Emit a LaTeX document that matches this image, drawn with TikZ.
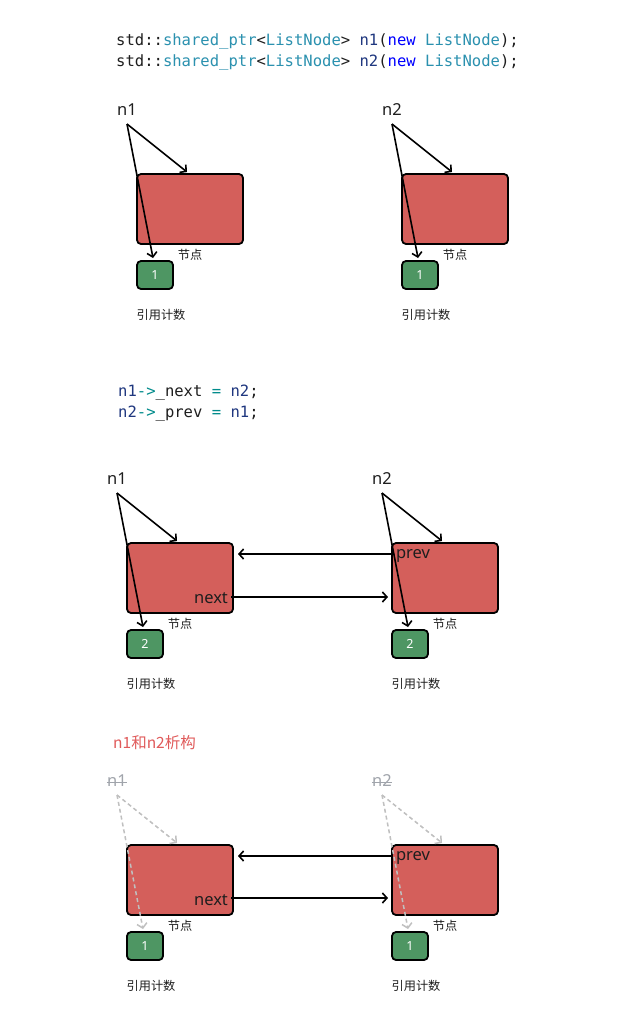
\documentclass[tikz,border=0pt]{standalone}
\usepackage{fontspec}
\setmainfont{Noto Sans}
\setmonofont{DejaVu Sans Mono}
\newfontfamily\cjk{Noto Sans CJK SC}
\usetikzlibrary{arrows.meta}
\definecolor{nodered}{HTML}{D45F5B}
\definecolor{nodegreen}{HTML}{4E9663}
\definecolor{cteal}{HTML}{2B91AF}
\definecolor{cnavy}{HTML}{1F377F}
\definecolor{cblue}{HTML}{0000FF}
\definecolor{cop}{HTML}{008B8B}
\definecolor{ctxt}{HTML}{1E1E1E}
\definecolor{fadetxt}{HTML}{A0A4AB}
\definecolor{fadeline}{HTML}{C0C0C0}
\definecolor{titlered}{HTML}{E05A5A}
\tikzset{
  nodebox/.style={draw=black,line width=1.8pt,fill=nodered,rounded corners=4pt,minimum width=106pt,minimum height=70pt,inner sep=0pt},
  countbox/.style={draw=black,line width=1.8pt,fill=nodegreen,rounded corners=4pt,minimum width=36pt,minimum height=28pt,inner sep=0pt,text=white,font=\fontsize{12.5}{13}\selectfont},
  lbl/.style={inner sep=0pt,font=\fontsize{16.5}{18}\selectfont,text=ctxt},
  small/.style={inner sep=0pt,font=\cjk\fontsize{12.2}{13}\selectfont,text=ctxt},
  code/.style={inner sep=0pt,anchor=base west,font=\ttfamily\fontsize{15.55}{17}\selectfont},
  ptr/.style={line width=1.6pt,-{Straight Barb[length=4.5pt,width=10pt,line width=1.6pt]}},
  faded/.style={line width=1.5pt,draw=fadeline,dash pattern=on 4pt off 3pt,-{Straight Barb[length=4.5pt,width=10pt,line width=1.5pt]}},
  link/.style={line width=1.6pt,-{Straight Barb[length=4.5pt,width=10pt,line width=1.6pt]}},
}
% #1 prefix, #2 x, #3 y (top-left of node box), #4 label, #5 count, #6 label style, #7 arrow style
\newcommand\sidepair[7]{%
  \node[nodebox] (#1box) at (#2+53,#3+35) {};
  \node[countbox] (#1cnt) at (#2+18,#3+101) {#5};
  \node[small] (#1cap) at (#2+53,#3+81) {节点};
  \node[small] (#1rc) at (#2+24,#3+141) {引用计数};
  \node[lbl,#6] (#1lbl) at (#2-10,#3-64) {#4};
  \coordinate (#1apex) at (#2-10,#3-50);
  \coordinate (#1tip) at (#2+50,#3-2);
  \coordinate (#1low) at (#2+16,#3+84);
  \draw[#7] (#1apex) -- (#1tip);
  \draw[#7] (#1apex) -- (#1low);
}
\begin{document}
\begin{tikzpicture}[x=1pt,y=-1pt]
\useasboundingbox[fill=white] (0,0) rectangle (636,1012);
% code block 1
\node[code] (codeA) at (116,45) {\textcolor{ctxt}{std::}\textcolor{cteal}{shared\_ptr}\textcolor{ctxt}{<}\textcolor{cteal}{ListNode}\textcolor{ctxt}{>} \textcolor{cnavy}{n1}\textcolor{ctxt}{(}\textcolor{cblue}{new} \textcolor{cteal}{ListNode}\textcolor{ctxt}{);}};
\node[code] (codeB) at (116,66) {\textcolor{ctxt}{std::}\textcolor{cteal}{shared\_ptr}\textcolor{ctxt}{<}\textcolor{cteal}{ListNode}\textcolor{ctxt}{>} \textcolor{cnavy}{n2}\textcolor{ctxt}{(}\textcolor{cblue}{new} \textcolor{cteal}{ListNode}\textcolor{ctxt}{);}};
% diagram 1
\sidepair{aL}{137}{174}{n1}{1}{}{ptr}
\sidepair{aR}{402}{174}{n2}{1}{}{ptr}
% code block 2
\node[code] (codeC) at (118,396) {\textcolor{cnavy}{n1}\textcolor{cop}{->}\textcolor{ctxt}{\_next} \textcolor{cop}{=} \textcolor{cnavy}{n2}\textcolor{ctxt}{;}};
\node[code] (codeD) at (118,417) {\textcolor{cnavy}{n2}\textcolor{cop}{->}\textcolor{ctxt}{\_prev} \textcolor{cop}{=} \textcolor{cnavy}{n1}\textcolor{ctxt}{;}};
% diagram 2
\sidepair{bL}{127}{543}{n1}{2}{}{ptr}
\sidepair{bR}{392}{543}{n2}{2}{}{ptr}
\node[lbl] (bnext) at (211,598) {next};
\node[lbl] (bprev) at (413,556) {prev};
\coordinate (bprevs) at (392,554);
\coordinate (bpreve) at (238,554);
\draw[link] (bprevs) -- (bpreve);
\coordinate (bnexts) at (231,597);
\coordinate (bnexte) at (388,597);
\draw[link] (bnexts) -- (bnexte);
% title
\node[inner sep=0pt,anchor=west,font=\cjk\fontsize{15.5}{17}\selectfont,text=titlered] (title) at (113,743) {n1和n2析构};
% diagram 3
\sidepair{cL}{127}{845}{n1}{1}{text=fadetxt}{faded}
\sidepair{cR}{392}{845}{n2}{1}{text=fadetxt}{faded}
\draw[fadetxt,line width=0.9pt] ([yshift=-1pt]cLlbl.west) -- ([yshift=-1pt]cLlbl.east);
\draw[fadetxt,line width=0.9pt] ([yshift=-1pt]cRlbl.west) -- ([yshift=-1pt]cRlbl.east);
\node[lbl] (cnext) at (211,900) {next};
\node[lbl] (cprev) at (413,858) {prev};
\coordinate (cprevs) at (392,856);
\coordinate (cpreve) at (238,856);
\draw[link] (cprevs) -- (cpreve);
\coordinate (cnexts) at (231,898);
\coordinate (cnexte) at (388,898);
\draw[link] (cnexts) -- (cnexte);
\end{tikzpicture}
\end{document}
